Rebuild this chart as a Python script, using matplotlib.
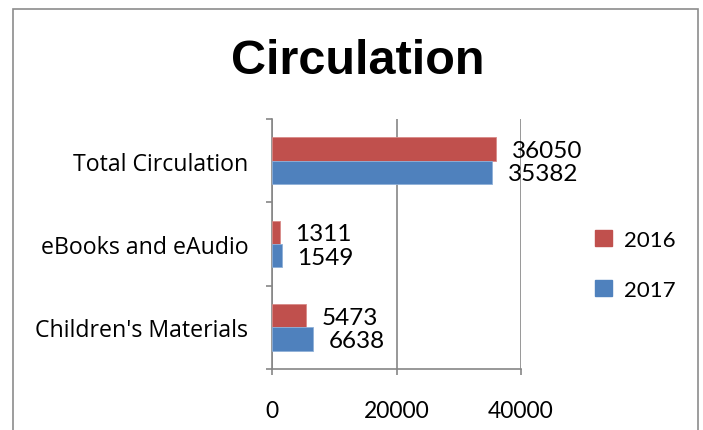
import matplotlib
matplotlib.use("Agg")
import matplotlib.pyplot as plt
from matplotlib.patches import Rectangle
from matplotlib.ticker import FixedLocator

categories = ["Children's Materials", "eBooks and eAudio", "Total Circulation"]
series_names = ["2016", "2017"]
values_2016 = [5473, 1311, 36050]
values_2017 = [6638, 1549, 35382]
xticks = [0, 20000, 40000]

red = "#C0504D"
blue = "#4F81BD"
grid_gray = "#868686"

plt.rcParams['font.family'] = ['Lato', 'DejaVu Sans']

fig = plt.figure(figsize=(7.03, 4.31), dpi=100)
# outer chart border
fig.patches.append(Rectangle((13/703, -0.1), (698-13)/703, 1.1 - 10/431,
                             transform=fig.transFigure, fill=False,
                             edgecolor="#8c8c8c", linewidth=1.2))

ax = fig.add_axes([272/703, 1-370/431, (521-272)/703, (370-120)/431])

h = 0.28
y = list(range(len(categories)))
b1 = ax.barh([i + h/2 for i in y], values_2016, height=h, color=red,
             edgecolor="#d88a88", linewidth=0.6, label=series_names[0], zorder=3)
b2 = ax.barh([i - h/2 for i in y], values_2017, height=h, color=blue,
             edgecolor="#8fb0d8", linewidth=0.6, label=series_names[1], zorder=3)

for bars, vals in ((b1, values_2016), (b2, values_2017)):
    for rect, v in zip(bars, vals):
        ax.annotate(f"{v}", (v, rect.get_y() + rect.get_height()/2),
                    xytext=(11, -1), textcoords="offset points",
                    ha="left", va="center", fontsize=17.5, color="black",
                    annotation_clip=False)

ax.set_xlim(0, 40000)
ax.set_ylim(-0.5, 2.5)
ax.set_xticks(xticks)
ax.set_xticklabels([str(t) for t in xticks], fontsize=16.5)
ax.set_yticks(y)
ax.set_yticklabels(categories, fontsize=16.7,
                   family=["Open Sans", "DejaVu Sans"])
ax.yaxis.set_minor_locator(FixedLocator([-0.5, 0.5, 1.5, 2.5]))
ax.tick_params(axis="y", which="major", length=0, pad=17)
ax.tick_params(axis="y", which="minor", length=4, width=1.2, color=grid_gray)
ax.tick_params(axis="x", length=4.5, width=1.2, color=grid_gray, pad=18)

ax.grid(axis="x", color=grid_gray, linewidth=1.2, zorder=0)
for s in ("top", "right"):
    ax.spines[s].set_visible(False)
for s in ("left", "bottom"):
    ax.spines[s].set_color(grid_gray)
    ax.spines[s].set_linewidth(1.2)

fig.text(358/703, 1-61/431, "Circulation", ha="center", va="center",
         fontsize=35, fontweight="bold",
         family=["Liberation Sans", "DejaVu Sans"])

handles = [Rectangle((0, 0), 1, 1, color=red), Rectangle((0, 0), 1, 1, color=blue)]
fig.legend(handles, series_names, loc="center left",
           bbox_to_anchor=(575/703, 1-266/431), frameon=False,
           fontsize=16, handlelength=0.75, handleheight=0.75,
           labelspacing=1.35, handletextpad=0.55)

fig.savefig("out.png", dpi=100)
